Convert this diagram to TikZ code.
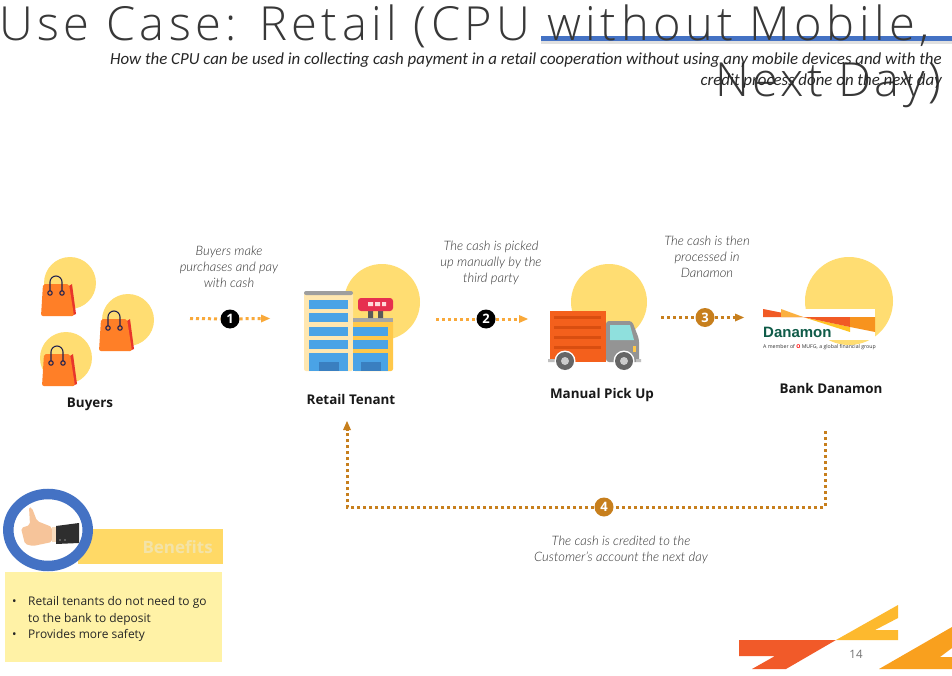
\documentclass[tikz,border=0pt]{standalone}
\usepackage{fontspec}
\setmainfont{Open Sans}
\newfontfamily\titlefont[LetterSpace=9.5]{Open Sans Light}
\newfontfamily\titlefontb[LetterSpace=7]{Open Sans Light}
\newfontfamily\subfont{Carlito}
\newfontfamily\capfont[ItalicFont={Lato Light Italic}]{Lato Light}
\newfontfamily\logofont{Liberation Sans}
\definecolor{sun}{HTML}{FFDD72}
\definecolor{bago}{HTML}{FF7F27}
\definecolor{bagr}{HTML}{E8352B}
\definecolor{navy}{HTML}{23234F}
\definecolor{dotor}{HTML}{F9A93A}
\definecolor{dotbr}{HTML}{C77F1D}
\definecolor{blueb}{HTML}{4AA3E6}
\definecolor{bluedk}{HTML}{3A7FC0}
\definecolor{ringb}{HTML}{4472C4}
\definecolor{towera}{HTML}{FFE7B0}
\definecolor{towerb}{HTML}{FFC84A}
\definecolor{signr}{HTML}{E6304F}
\definecolor{cargo}{HTML}{F4601C}
\definecolor{cargod}{HTML}{D94E10}
\definecolor{glass}{HTML}{8FE0DD}
\definecolor{lred}{HTML}{F15A24}
\definecolor{lamb}{HTML}{FBB040}
\definecolor{lyel}{HTML}{FFC423}
\definecolor{lora}{HTML}{F7931E}
\definecolor{dgreen}{HTML}{0F5B48}
\definecolor{barc}{HTML}{FFD966}
\definecolor{bent}{HTML}{F3E3A8}
\definecolor{boxc}{HTML}{FFF2A6}
\definecolor{skin}{HTML}{F6C49A}
\definecolor{cuff}{HTML}{F9DDBF}
\definecolor{fred}{HTML}{F15A29}
\definecolor{fyel}{HTML}{FDB92E}
\definecolor{fora}{HTML}{F9A01E}
\tikzset{
  x=1pt,y=-1pt,
  sunc/.style={circle,fill=sun,inner sep=0pt,minimum size=#1},
  flow/.style={draw=#1,line width=3pt,dash pattern=on 3pt off 3pt},
  badge/.style={circle,fill=#1,text=white,inner sep=0pt,minimum size=19pt,font=\bfseries\fontsize{13}{13}\selectfont},
  captxt/.style={align=center,text=black!80,font=\capfont\itshape\fontsize{13}{16}\selectfont},
  lab/.style={font=\bfseries\fontsize{13.4}{15}\selectfont,text=black!90},
  tt/.style={inner sep=0pt,text=black!78,font=\fontsize{47}{47}\selectfont},
  st/.style={anchor=east,inner sep=0pt,text=black!85,font=\subfont\itshape\fontsize{16.87}{18}\selectfont},
  bag/.pic={
    \fill[bagr] (28,2) -- (31,0) -- (35,30) -- (30,32) -- cycle;
    \fill[bago,rounded corners=2pt] (2,0) -- (28,0) -- (33,32) -- (0,32) -- cycle;
    \draw[navy,line width=1.1pt] (9,8) -- (9,-2) arc[start angle=180,end angle=360,radius=6] -- (21,8);
    \draw[navy,line width=1.1pt,fill=bago] (9,9) circle[radius=2.2] (21,9) circle[radius=2.2];
  }
}
\begin{document}
\begin{tikzpicture}
\useasboundingbox (0,0) rectangle (952,676);
\fill[white] (0,0) rectangle (952,676);
% title
\fill[black!12] (541,41) rectangle (952,44);
\fill[ringb] (541,36.5) rectangle (952,41);
\node[tt,anchor=base west] (title1) at (-1,41) {\titlefont Use Case: Retail (CPU without Mobile,};
\node[tt,anchor=base east] (title2) at (941,97) {\titlefontb Next Day)};
\node[st] (sub1) at (942,60.5) {How the CPU can be used in collecting cash payment in a retail cooperation without using any mobile devices and with the};
\node[st] (sub2) at (942,81.5) {credit process done on the next day};
% buyers
\node[sunc=52pt] (s1) at (70,283) {};
\node[sunc=52pt] (s2) at (128,320) {};
\node[sunc=52pt] (s3) at (66,358) {};
\pic at (41,284) {bag};
\pic at (99,319) {bag};
\pic at (42,354) {bag};
\node[lab] (buyers) at (90,404) {Buyers};
% building
\node[sunc=76pt] (s4) at (382,302) {};
\fill[towera,rounded corners=2pt] (304,293) rectangle (353,371);
\fill[black!38,rounded corners=2pt] (304,291) rectangle (353,295);
\fill[towerb,rounded corners=2pt] (353,320) rectangle (393,371);
\fill[black!35] (353,318) rectangle (393,322);
\fill[black!65] (368,311) rectangle (373,318) (378,311) rectangle (383,318);
\fill[signr,rounded corners=3pt] (358,298) rectangle (393,311);
\fill[white!85!red] (368,302) rectangle (373,306) (375,302) rectangle (380,306) (382,302) rectangle (386,306);
\foreach \y in {300,313,327,340} {\fill[blueb] (309,\y) rectangle (348,\y+9);}
\foreach \y in {327,340} {\fill[blueb] (353,\y) rectangle (388,\y+9);}
\fill[blueb] (309,353) rectangle (348,371);
\fill[blueb] (353,353) rectangle (388,371);
\fill[bluedk] (319,362) rectangle (339,371);
\fill[bluedk] (361,362) rectangle (381,371);
\node[lab] (tenant) at (351,399.5) {Retail Tenant};
% truck
\node[sunc=76pt] (s5) at (609,302) {};
\fill[cargo] (550,311) rectangle (606,362);
\foreach \y in {316,326,336,346} {\fill[cargod] (554,\y) rectangle (601,\y+2.5);}
\fill[black!42,rounded corners=3pt] (606,321) -- (632,321) -- (639,339) -- (639,362) -- (606,362) -- cycle;
\fill[glass] (610,325) -- (630,325) -- (634,340) -- (610,340) -- cycle;
\fill[towerb] (633,346) rectangle (636,352);
\fill[black!25] (548,359) rectangle (556,362) (636,359) rectangle (641,362);
\foreach \x in {565,624} {
  \fill[white] (\x,361) circle[radius=10.5];
  \fill[black!60] (\x,361) circle[radius=9];
  \fill[black!20] (\x,361) circle[radius=4];
}
\node[lab] (pickup) at (602,395.5) {Manual Pick Up};
% danamon
\node[sunc=88pt] (s6) at (849,301) {};
\fill[white] (763,309) rectangle (875,340);
\fill[lred] (763,309) -- (803,317) -- (763,317) -- cycle;
\fill[lamb] (781,309) -- (803,317) -- (781,317) -- cycle;
\fill[lyel] (803,317) -- (850,327) -- (850,332) -- cycle;
\fill[lred] (803,317) -- (850,317) -- (850,327) -- cycle;
\fill[lora] (850,317) -- (875,317) -- (875,332) -- (850,327) -- cycle;
\node[inner sep=0pt,anchor=base west,text=dgreen,font=\logofont\bfseries\fontsize{15}{15}\selectfont] (dana) at (763,337) {Danamon};
\node[inner sep=0pt,anchor=west,text=black!80,font=\fontsize{5.2}{5}\selectfont] (danasub) at (763,347) {A member of \textcolor{red}{\textbf{O}} MUFG, a global financial group};
\node[lab] (bank) at (831,388) {Bank Danamon};
% flows
\coordinate (a1s) at (190,318.5);
\coordinate (a1e) at (261,318.5);
\coordinate (a1t) at (270,318.5);
\node[badge=black] (b1) at (230,319) {1};
\draw[flow=dotor] (a1s) -- (b1);
\draw[flow=dotor] (b1) -- (a1e);
\fill[dotor] (a1t) -- ([yshift=4pt]a1e) -- ([yshift=-4pt]a1e) -- cycle;
\coordinate (a2s) at (436,319);
\coordinate (a2e) at (519,319);
\coordinate (a2t) at (528,319);
\node[badge=black] (b2) at (486,319) {2};
\draw[flow=dotor] (a2s) -- (b2);
\draw[flow=dotor] (b2) -- (a2e);
\fill[dotor] (a2t) -- ([yshift=4pt]a2e) -- ([yshift=-4pt]a2e) -- cycle;
\coordinate (a3s) at (661,317.5);
\coordinate (a3e) at (735,317.5);
\coordinate (a3t) at (744,317.5);
\node[badge=dotbr] (b3) at (705,317.5) {3};
\draw[flow=dotbr] (a3s) -- (b3);
\draw[flow=dotbr] (b3) -- (a3e);
\fill[dotbr] (a3t) -- ([yshift=4pt]a3e) -- ([yshift=-4pt]a3e) -- cycle;
\coordinate (a4s) at (825,431);
\coordinate (a4e) at (347,430);
\coordinate (a4t) at (347,421);
\node[badge=dotbr] (b4) at (604,507) {4};
\draw[flow=dotbr] (a4s) |- (b4);
\draw[flow=dotbr] (b4) -| (a4e);
\fill[dotbr] (a4t) -- ([xshift=4pt]a4e) -- ([xshift=-4pt]a4e) -- cycle;
% captions
\node[captxt] (c1) at (229,267) {Buyers make\\purchases and pay\\with cash};
\node[captxt] (c2) at (491,263) {The cash is picked\\up manually by the\\third party};
\node[captxt] (c3) at (707,257) {The cash is then\\processed in\\Danamon};
\node[captxt] (c4) at (621,549.5) {The cash is credited to the\\Customer’s account the next day};
% benefits
\fill[barc] (78,529) rectangle (223,564);
\node[anchor=east,inner sep=0pt,text=bent,font=\bfseries\fontsize{17}{18}\selectfont] (ben) at (213,547) {Benefits};
\fill[boxc] (5,572) rectangle (222,662);
\node[anchor=north west,inner sep=0pt,align=left,font=\fontsize{11.95}{16.3}\selectfont,text=black!85] (blist) at (12,596.5) {%
\makebox[16pt][l]{•}Retail tenants do not need to go\\
\hspace*{16pt}to the bank to deposit\\
\makebox[16pt][l]{•}Provides more safety};
\draw[ringb,line width=10.5pt,fill=white] (48,530) ellipse[x radius=39.7,y radius=36];
\fill[skin,rounded corners=2pt] (29,507) -- (32,508) -- (37,521) -- (52,527) -- (52,542) -- (33,546) -- (25,544) -- (21,528) -- (30,525) -- cycle;
\fill[cuff] (52,527) rectangle (56,542);
\fill[black!82] (56,526) -- (79,523) -- (79,543) -- (56,544) -- cycle;
\fill[white] (60,540) circle[radius=.7] (65,540) circle[radius=.7];
% footer
\fill[fred] (739,640) -- (836,640) -- (786,669) -- (752,669) -- (775,656) -- (739,656) -- cycle;
\fill[fyel] (836,640) -- (898,605) -- (898,618) -- (875,630) -- (898,630) -- (898,640) -- cycle;
\fill[fora] (879,669) -- (952,627) -- (952,648) -- (940,657) -- (952,657) -- (952,669) -- cycle;
\node[text=black!55,font=\fontsize{11.5}{12}\selectfont] (pg) at (856,654.5) {14};
\end{tikzpicture}
\end{document}
